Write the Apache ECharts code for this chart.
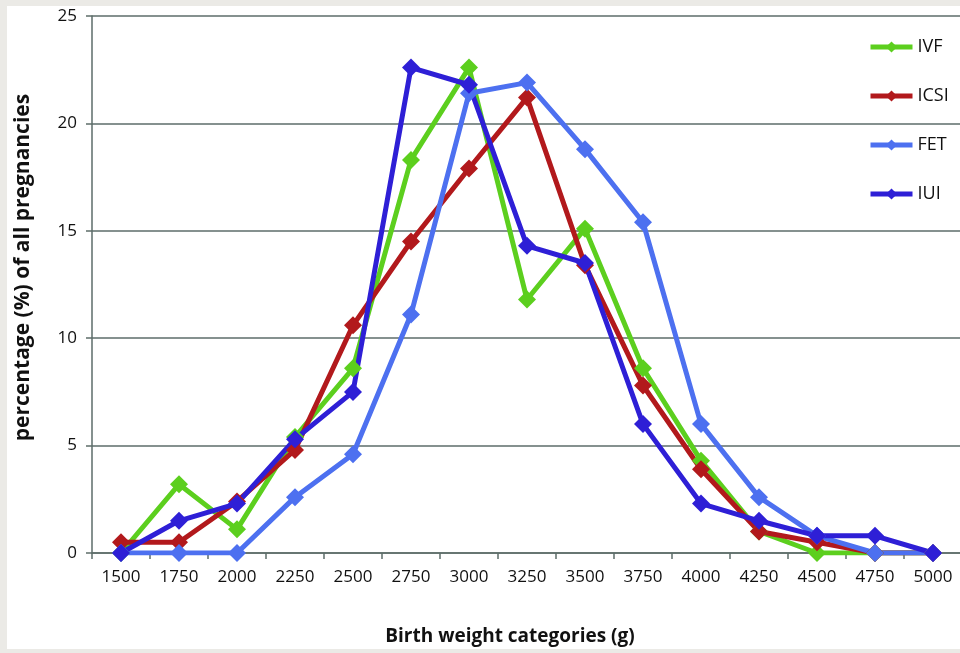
<!DOCTYPE html>
<html>
<head>
<meta charset="utf-8">
<script src="https://cdn.jsdelivr.net/npm/echarts@6/dist/echarts.min.js"></script>
<style>
    html, body { margin: 0; padding: 0; background: #ebeae6; }
    #chart { width: 960px; height: 653px; }
</style>
</head>
<body>
<div id="chart"></div>
<script>
// birth weight categories (g)
const categories = ['1500','1750','2000','2250','2500','2750','3000','3250','3500','3750','4000','4250','4500','4750','5000'];
// percentage of all pregnancies
const ivf  = [0,   3.2, 1.1, 5.4, 8.6, 18.3, 22.6, 11.8, 15.1, 8.6, 4.3, 1.0, 0,   0,   0];
const icsi = [0.5, 0.5, 2.4, 4.8, 10.6, 14.5, 17.9, 21.2, 13.4, 7.8, 3.9, 1.0, 0.5, 0,   0];
const fet  = [0,   0,   0,   2.6, 4.6, 11.1, 21.4, 21.9, 18.8, 15.4, 6.0, 2.6, 0.8, 0,   0];
const iui  = [0,   1.5, 2.3, 5.3, 7.5, 22.6, 21.8, 14.3, 13.5, 6.0, 2.3, 1.5, 0.8, 0.8, 0];
const yTicks = [0, 5, 10, 15, 20, 25];

const axisCol = '#5d6d6a';
const font = '"Open Sans", "Liberation Sans", sans-serif';

function mkSeries(name, data, color) {
    return {
        name: name,
        type: 'line',
        data: data,
        symbol: 'diamond',
        symbolSize: 18,
        lineStyle: { color: color, width: 5 },
        itemStyle: { color: color },
        animation: false
    };
}

let myChart = echarts.init(document.getElementById('chart'));
myChart.setOption({
    backgroundColor: '#ebeae6',
    graphic: [{
        type: 'rect',
        z: -10,
        left: 7,
        top: 6,
        shape: { width: 953, height: 643 },
        style: { fill: '#ffffff' }
    }],
    legend: {
        orient: 'vertical',
        left: 863,
        top: 33,
        itemWidth: 42,
        itemHeight: 14,
        itemGap: 31,
        lineStyle: { width: 5 },
        textStyle: { fontFamily: font, fontSize: 18, color: '#111' },
        data: ['IVF', 'ICSI', 'FET', 'IUI']
    },
    grid: { left: 92, right: -2, top: 16, bottom: 100, outerBoundsMode: 'none' },
    xAxis: {
        type: 'category',
        data: categories,
        boundaryGap: true,
        name: 'Birth weight categories (g)',
        nameLocation: 'middle',
        nameGap: 74,
        nameTextStyle: { fontFamily: font, fontSize: 19, fontWeight: 'bold', color: '#111', padding: [0, 34, 0, 0] },
        axisLine: { lineStyle: { color: axisCol, width: 1.5 } },
        axisTick: { show: true, length: 6, lineStyle: { color: axisCol, width: 1.5 } },
        axisLabel: { fontFamily: font, fontSize: 17, color: '#111', margin: 16 }
    },
    yAxis: {
        type: 'value',
        min: yTicks[0],
        max: yTicks[yTicks.length - 1],
        interval: 5,
        name: 'percentage (%) of all pregnancies',
        nameLocation: 'middle',
        nameGap: 58,
        nameTextStyle: { fontFamily: font, fontSize: 21, fontWeight: 'bold', color: '#111', padding: [0, 0, 0, 34] },
        axisLine: { show: true, lineStyle: { color: axisCol, width: 1.5 } },
        axisTick: { show: true, length: 6, lineStyle: { color: axisCol, width: 1.5 } },
        axisLabel: { fontFamily: font, fontSize: 17, color: '#111', margin: 15 },
        splitLine: { lineStyle: { color: axisCol, width: 1.5 } }
    },
    series: [
        mkSeries('IVF', ivf, '#5ccf1e'),
        mkSeries('ICSI', icsi, '#b2191c'),
        mkSeries('FET', fet, '#4d70f0'),
        mkSeries('IUI', iui, '#2e1fd6')
    ]
});
</script>
</body>
</html>
